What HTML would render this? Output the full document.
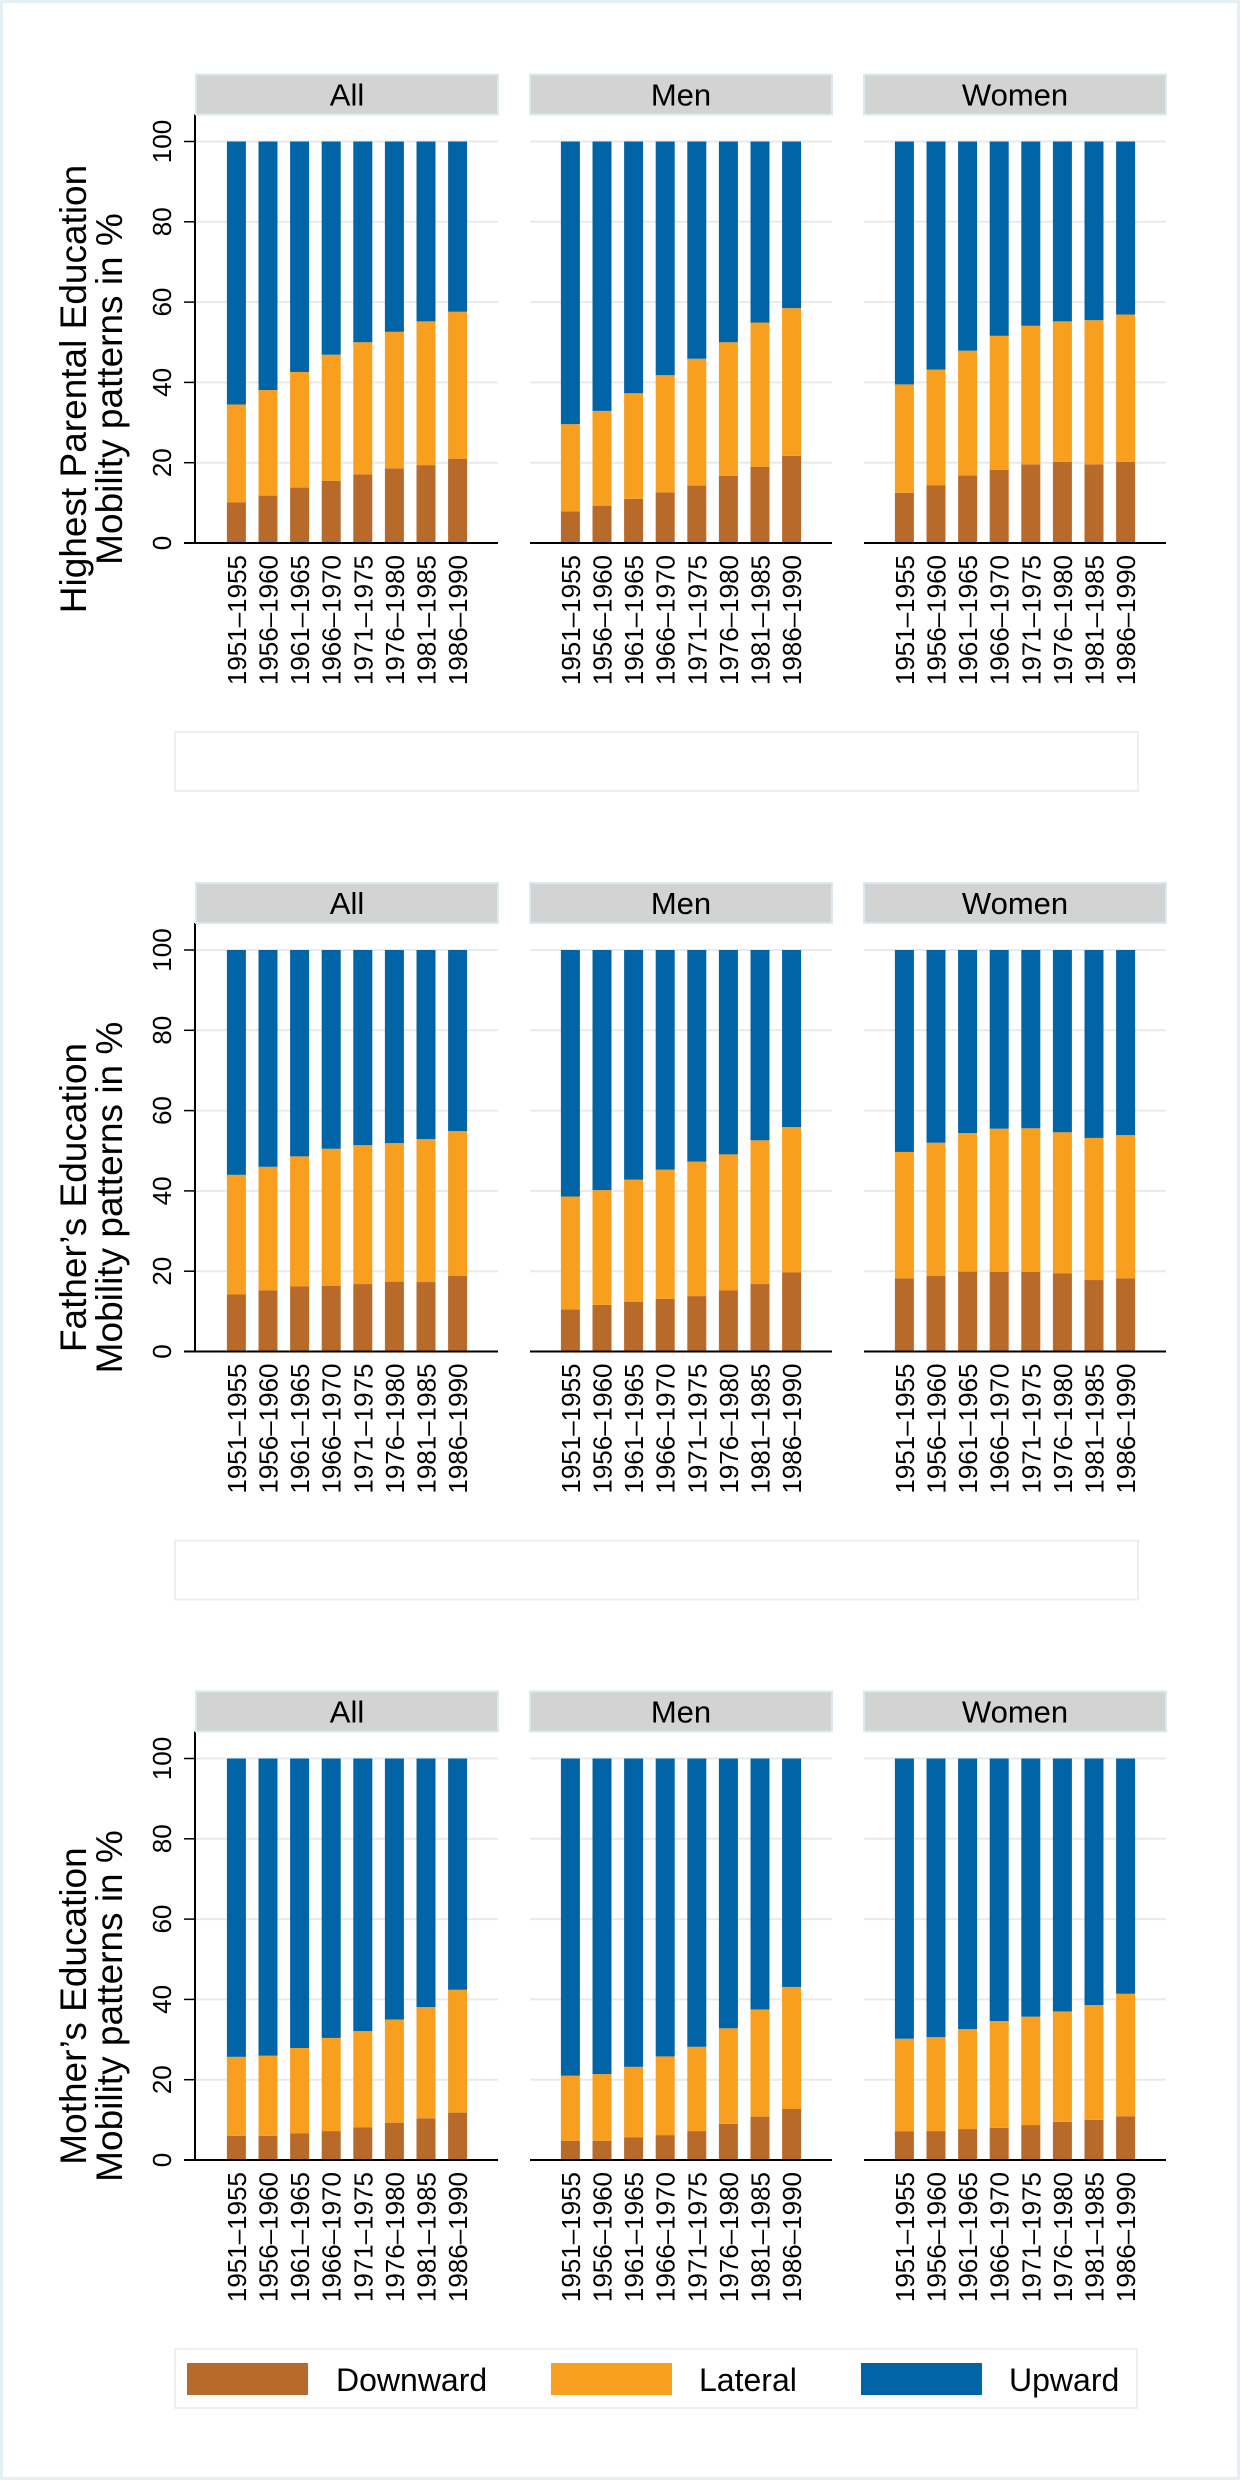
<!DOCTYPE html>
<html><head><meta charset="utf-8">
<style>
html,body{margin:0;padding:0;background:#fff;}
svg{display:block;font-family:"Liberation Sans",Arial,sans-serif;}
</style></head>
<body>
<svg id="chart" width="1240" height="2480" viewBox="0 0 1240 2480" xmlns="http://www.w3.org/2000/svg">
<rect x="1.5" y="1.5" width="1237" height="2477" fill="#fff" stroke="#e4eff4" stroke-width="3"/>
</svg>
<script>
const categories = ["1951–1955","1956–1960","1961–1965","1966–1970","1971–1975","1976–1980","1981–1985","1986–1990"];
const rowTitles = ["Highest Parental Education","Father’s Education","Mother’s Education"];
const panelTitles = ["All","Men","Women"];
const yTicks = [0,20,40,60,80,100];
// Downward share and cumulative (Downward+Lateral) share, per row/panel
const downHighest = [[10.1,11.8,13.8,15.5,17.1,18.6,19.4,21.0],[7.9,9.3,11.0,12.6,14.3,16.7,19.0,21.7],[12.5,14.4,16.8,18.2,19.6,20.2,19.6,20.2]];
const cumHighest  = [[34.5,38.1,42.6,46.9,50.0,52.6,55.2,57.6],[29.6,32.9,37.3,41.8,45.9,50.0,54.9,58.5],[39.5,43.2,47.9,51.6,54.1,55.2,55.5,56.9]];
const downFather = [[14.2,15.2,16.2,16.4,16.8,17.4,17.3,18.8],[10.5,11.6,12.4,13.1,13.8,15.2,16.8,19.7],[18.2,18.8,19.9,19.8,19.8,19.5,17.8,18.2]];
const cumFather  = [[44.0,46.0,48.6,50.5,51.4,51.9,52.9,54.9],[38.6,40.2,42.8,45.3,47.3,49.1,52.6,55.9],[49.7,52.0,54.4,55.5,55.6,54.6,53.2,53.9]];
const downMother = [[6.0,6.0,6.6,7.2,8.1,9.3,10.4,11.8],[4.8,4.8,5.6,6.2,7.2,9.0,10.8,12.7],[7.1,7.2,7.7,8.0,8.7,9.5,10.0,10.9]];
const cumMother  = [[25.7,26.0,27.9,30.4,32.1,35.0,38.1,42.4],[21.0,21.4,23.2,25.8,28.2,32.8,37.5,43.1],[30.2,30.6,32.6,34.6,35.7,37.0,38.6,41.4]];
const downRows = [downHighest, downFather, downMother];
const cumRows = [cumHighest, cumFather, cumMother];
const legendLabels = ["Downward","Lateral","Upward"];

const C_DOWN="#b86a2a", C_LAT="#f89f1f", C_UP="#0064a6";
const NS="http://www.w3.org/2000/svg";
const svg=document.getElementById('chart');
function mk(tag,attrs,parent){const e=document.createElementNS(NS,tag);for(const k in attrs)e.setAttribute(k,attrs[k]);(parent||svg).appendChild(e);return e;}

const panelX=[196,530,864], panelW=302;
const rowY0=[543,1351.5,2160], plotH=401.5;
const step=31.6, pad=24.6, barW=19;
function xPos(p,i){return panelX[p]+pad+step*i+(step-barW)/2;}
function yPos(r,v){return rowY0[r]-v/100*plotH;}

for(let r=0;r<3;r++){
  const g=mk('g',{});
  
  
  const yTop=rowY0[r]-plotH;
  const cy=rowY0[r]-154;
  const t1=mk('text',{x:0,y:0,'font-size':37,'text-anchor':'middle',transform:`translate(86,${cy}) rotate(-90)`},g);
  t1.textContent=rowTitles[r];
  
  
  const t2=mk('text',{x:0,y:0,'font-size':37,'text-anchor':'middle',transform:`translate(122,${cy}) rotate(-90)`},g);
  t2.textContent="Mobility patterns in %";
  
  
  const ax=mk('line',{x1:195,x2:195,y1:yTop-27,y2:rowY0[r],stroke:'#000','stroke-width':2},g);
  
  
  yTicks.forEach(v=>{
    const y=yPos(r,v);
    const tk=mk('line',{x1:184,x2:195,y1:y,y2:y,stroke:'#000','stroke-width':1.5},g);
    
    
    const tl=mk('text',{x:0,y:0,'font-size':26,'text-anchor':'middle',transform:`translate(171,${y}) rotate(-90)`},g);
    tl.textContent=v;
    
    
  });
  for(let p=0;p<3;p++){
    const px=panelX[p];
    const strip=mk('rect',{x:px,y:yTop-67,width:panelW,height:40,fill:'#d3d3d3',stroke:'#dbe8ee','stroke-width':2},g);
    
    
    const st=mk('text',{x:px+panelW/2,y:yTop-36,'font-size':31,'text-anchor':'middle'},g);
    st.textContent=panelTitles[p];
    
    
    yTicks.forEach(v=>{
      if(v===0)return;
      const y=yPos(r,v);
      const gl=mk('line',{x1:px,x2:px+panelW,y1:y,y2:y,stroke:'#eaeaea','stroke-width':2},g);
      
      
    });
    const d=downRows[r][p], c=cumRows[r][p];
    categories.forEach((cat,i)=>{
      const x=xPos(p,i);
      const b1=mk('rect',{x:x,y:yPos(r,d[i]),width:barW,height:yPos(r,0)-yPos(r,d[i]),fill:C_DOWN},g);
      
      
      const b2=mk('rect',{x:x,y:yPos(r,c[i]),width:barW,height:yPos(r,d[i])-yPos(r,c[i]),fill:C_LAT},g);
      
      
      const b3=mk('rect',{x:x,y:yPos(r,100),width:barW,height:yPos(r,c[i])-yPos(r,100),fill:C_UP},g);
      
      
      const xl=mk('text',{x:0,y:0,'font-size':26,'text-anchor':'end',transform:`translate(${x+barW/2+9.5},${rowY0[r]+12}) rotate(-90)`},g);
      xl.textContent=cat;
      
      
    });
    const xa=mk('line',{x1:p===0?184:px,x2:px+panelW,y1:rowY0[r],y2:rowY0[r],stroke:'#000','stroke-width':2},g);
    
    
  }
  if(r<2){
    const eb=mk('rect',{x:175,y:rowY0[r]+189,width:963,height:59,fill:'#fff',stroke:'#efefef','stroke-width':2},g);
    
    
  }
}
const lg=mk('g',{});


const lb=mk('rect',{x:175,y:2349,width:962,height:59,fill:'#fff',stroke:'#efefef','stroke-width':2},lg);


const swX=[187,551,861], txX=[336,699,1009], cols=[C_DOWN,C_LAT,C_UP];
legendLabels.forEach((lab,i)=>{
  const sw=mk('rect',{x:swX[i],y:2363,width:121,height:32,fill:cols[i]},lg);
  
  
  const tx=mk('text',{x:txX[i],y:2391,'font-size':32},lg);
  tx.textContent=lab;
  
  
});
</script>
</body></html>
